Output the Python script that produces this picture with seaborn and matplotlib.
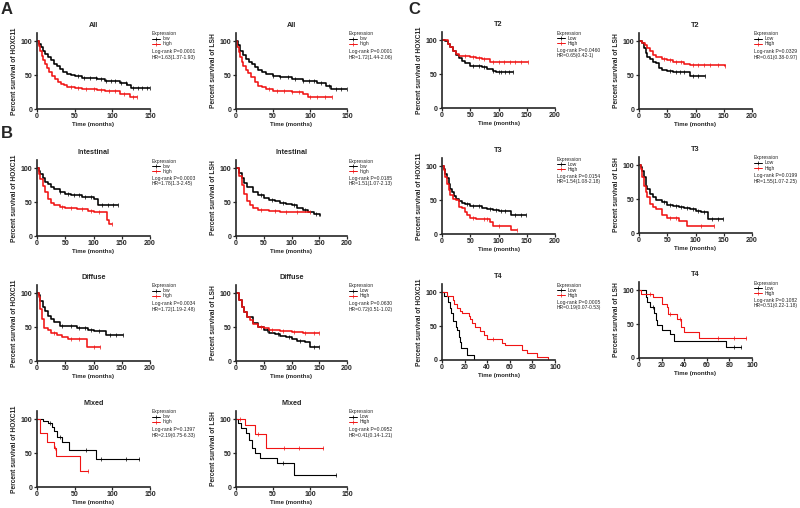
import numpy as np
import pandas as pd
import matplotlib
matplotlib.use("Agg")
import matplotlib.pyplot as plt
from matplotlib.lines import Line2D
import seaborn as sns

# ---- curve data: step times (months), % surviving, censor times ----
# A, HOXC11, All
all_hox_low_t = [0, 2, 5, 8, 11, 14, 18, 22, 26, 30, 35, 40, 45, 50, 60, 70, 80, 90, 100, 110, 120, 125, 150]
all_hox_low_s = [100, 96, 91, 86, 81, 77, 72, 67, 63, 59, 55, 52, 50, 48, 46, 45, 44, 42, 41, 39, 36, 31, 31]
all_hox_low_c = [55, 62, 70, 78, 85, 92, 98, 104, 112, 118, 128, 134, 140, 146, 150]
all_hox_high_t = [0, 2, 4, 6, 8, 10, 13, 16, 20, 24, 28, 32, 36, 40, 50, 60, 70, 80, 90, 100, 110, 124, 133]
all_hox_high_s = [100, 93, 85, 78, 72, 66, 60, 55, 49, 44, 40, 37, 35, 33, 31, 30, 29, 28, 27, 26, 22, 17, 17]
all_hox_high_c = [45, 55, 65, 75, 85, 95, 104, 115, 128, 133]
# A, LSH, All
all_lsh_low_t = [0, 3, 6, 10, 14, 18, 22, 26, 30, 35, 40, 50, 60, 75, 90, 100, 110, 122, 128, 150]
all_lsh_low_s = [100, 94, 86, 79, 74, 70, 66, 62, 58, 55, 52, 49, 47, 44, 42, 41, 38, 34, 29, 29]
all_lsh_low_c = [50, 60, 70, 80, 90, 98, 105, 115, 125, 135, 142, 150]
all_lsh_high_t = [0, 2, 4, 6, 8, 10, 13, 16, 20, 25, 30, 35, 40, 50, 60, 75, 90, 97, 130]
all_lsh_high_s = [100, 92, 84, 77, 70, 63, 58, 53, 47, 40, 34, 32, 30, 27, 26, 25, 22, 18, 18]
all_lsh_high_c = [45, 55, 65, 75, 85, 100, 110, 120, 130]
# B, Intestinal
int_hox_low_t = [0, 3, 6, 10, 15, 20, 25, 30, 40, 50, 60, 70, 80, 90, 100, 108, 144]
int_hox_low_s = [100, 96, 91, 85, 80, 76, 72, 69, 65, 62, 61, 60, 58, 57, 54, 45, 45]
int_hox_low_c = [40, 55, 65, 75, 85, 95, 115, 125, 135, 144]
int_hox_high_t = [0, 3, 6, 10, 15, 20, 25, 30, 40, 50, 70, 90, 100, 124, 128, 132]
int_hox_high_s = [100, 92, 84, 74, 65, 55, 48, 45, 43, 42, 40, 37, 35, 24, 18, 18]
int_hox_high_c = [45, 60, 80, 95, 110, 132]
int_lsh_low_t = [0, 5, 10, 15, 20, 30, 40, 50, 60, 70, 80, 90, 100, 110, 120, 130, 140, 151]
int_lsh_low_s = [100, 93, 85, 78, 72, 65, 60, 56, 53, 51, 49, 47, 45, 42, 39, 36, 32, 30]
int_lsh_low_c = [45, 65, 85, 105, 125, 145]
int_lsh_high_t = [0, 5, 10, 15, 20, 25, 30, 40, 50, 60, 80, 100, 120, 133]
int_lsh_high_s = [100, 88, 75, 62, 52, 46, 42, 39, 38, 37, 36, 36, 35, 35]
int_lsh_high_c = [45, 70, 90, 110, 133]
# B, Diffuse
dif_hox_low_t = [0, 3, 6, 10, 15, 20, 25, 30, 40, 50, 70, 90, 100, 122, 152]
dif_hox_low_s = [100, 97, 88, 80, 74, 67, 62, 57, 52, 51, 49, 46, 44, 38, 38]
dif_hox_low_c = [45, 60, 75, 85, 95, 110, 130, 140, 152]
dif_hox_high_t = [0, 3, 6, 9, 12, 20, 25, 35, 45, 55, 88, 111]
dif_hox_high_s = [100, 94, 77, 62, 49, 46, 41, 38, 36, 33, 21, 21]
dif_hox_high_c = [30, 60, 75, 100, 111]
dif_lsh_low_t = [0, 5, 10, 15, 20, 30, 40, 50, 60, 70, 80, 90, 100, 110, 125, 133, 150]
dif_lsh_low_s = [100, 90, 80, 72, 65, 56, 50, 45, 42, 40, 37, 35, 32, 30, 28, 20, 20]
dif_lsh_low_c = [55, 75, 95, 115, 140, 150]
dif_lsh_high_t = [0, 5, 10, 15, 20, 25, 30, 40, 50, 60, 80, 100, 120, 150]
dif_lsh_high_s = [100, 90, 80, 72, 65, 60, 55, 50, 48, 46, 44, 43, 42, 42]
dif_lsh_high_c = [45, 65, 85, 105, 125, 140, 150]
# B, Mixed
mix_hox_low_t = [0, 8, 15, 20, 23, 26, 33, 42, 78, 135]
mix_hox_low_s = [100, 98, 95, 88, 82, 73, 66, 55, 41, 41]
mix_hox_low_c = [17, 30, 65, 85, 118, 135]
mix_hox_high_t = [0, 3.5, 13, 22, 25.5, 57, 68]
mix_hox_high_s = [100, 80, 67, 57, 46, 23, 23]
mix_hox_high_c = [24, 68]
mix_lsh_low_t = [0, 3, 7, 14, 18, 21, 25, 32, 56, 78, 135]
mix_lsh_low_s = [100, 95, 87, 80, 70, 58, 50, 43, 35, 17, 17]
mix_lsh_low_c = [63, 135]
mix_lsh_high_t = [0, 12, 25, 40, 118]
mix_lsh_high_s = [100, 92, 78, 58, 58]
mix_lsh_high_c = [5, 30, 65, 85, 118]
# C, T2
t2_hox_low_t = [0, 5, 10, 15, 20, 25, 30, 35, 40, 50, 70, 80, 90, 95, 125]
t2_hox_low_s = [100, 99, 95, 90, 84, 78, 73, 70, 67, 62, 60, 58, 55, 53, 53]
t2_hox_low_c = [55, 65, 75, 90, 100, 105, 112, 118, 125]
t2_hox_high_t = [0, 10, 15, 20, 25, 30, 40, 50, 60, 70, 85, 152]
t2_hox_high_s = [100, 95, 90, 84, 80, 77, 76, 75, 73, 72, 68, 68]
t2_hox_high_c = [40, 55, 65, 75, 90, 100, 110, 120, 130, 140, 152]
t2_lsh_low_t = [0, 5, 8, 12, 15, 20, 25, 30, 35, 40, 50, 60, 85, 90, 117]
t2_lsh_low_s = [100, 97, 90, 82, 77, 73, 69, 68, 61, 58, 56, 55, 54, 49, 49]
t2_lsh_low_c = [55, 65, 72, 80, 95, 105, 117]
t2_lsh_high_t = [0, 5, 10, 15, 20, 25, 30, 40, 50, 60, 70, 80, 90, 152]
t2_lsh_high_s = [100, 98, 95, 90, 85, 80, 77, 74, 72, 70, 69, 67, 65, 64]
t2_lsh_high_c = [45, 55, 65, 75, 95, 105, 115, 125, 140, 152]
# C, T3
t3_hox_low_t = [0, 3, 6, 9, 12, 15, 18, 21, 25, 30, 35, 40, 50, 60, 70, 80, 90, 100, 122, 148]
t3_hox_low_s = [100, 96, 89, 82, 74, 67, 62, 56, 51, 48, 45, 44, 42, 41, 39, 37, 35, 34, 28, 28]
t3_hox_low_c = [45, 55, 65, 85, 95, 105, 112, 130, 140, 148]
t3_hox_high_t = [0, 3, 6, 9, 12, 15, 20, 25, 30, 35, 40, 45, 50, 60, 85, 90, 122, 133]
t3_hox_high_s = [100, 95, 84, 74, 65, 57, 52, 50, 40, 38, 33, 28, 24, 22, 18, 12, 6, 6]
t3_hox_high_c = [55, 75, 80, 100, 133]
t3_lsh_low_t = [0, 3, 6, 9, 12, 15, 20, 25, 30, 40, 50, 60, 70, 80, 90, 100, 110, 122, 148]
t3_lsh_low_s = [100, 97, 92, 82, 70, 65, 58, 53, 49, 45, 42, 40, 38, 37, 36, 32, 31, 21, 21]
t3_lsh_low_c = [45, 55, 65, 75, 85, 95, 105, 115, 130, 140, 148]
t3_lsh_high_t = [0, 3, 6, 9, 12, 15, 20, 25, 30, 40, 50, 60, 70, 85, 132]
t3_lsh_high_s = [100, 95, 82, 70, 60, 53, 43, 38, 35, 26, 22, 22, 17, 10, 10]
t3_lsh_high_c = [55, 65, 110, 132]
# C, T4
t4_hox_low_t = [0, 2, 5, 7, 8, 10, 12, 13, 15, 15.6, 17, 22, 28]
t4_hox_low_s = [100, 95, 85, 77, 69, 58, 49, 44, 34, 27, 17, 8, 0]
t4_hox_low_c = []
t4_hox_high_t = [0, 4, 10, 11, 13, 16, 18, 23.5, 25, 26.5, 29, 34, 37, 40, 53, 56, 71, 75, 84, 94]
t4_hox_high_s = [100, 95, 88, 83, 77, 72, 70, 65, 60, 55, 48, 43, 37, 31, 25, 22, 15, 10, 5, 0]
t4_hox_high_c = [45]
t4_lsh_low_t = [0, 6, 7, 9.5, 13, 15, 16, 20, 27, 31, 77, 90]
t4_lsh_low_s = [100, 90, 82, 75, 67, 56, 48, 42, 35, 25, 16, 16]
t4_lsh_low_c = [12, 84, 90]
t4_lsh_high_t = [0, 2, 12, 20, 25, 26, 34, 37, 40, 53, 95]
t4_lsh_high_s = [100, 95, 90, 80, 75, 65, 58, 45, 38, 30, 30]
t4_lsh_high_c = [10, 27, 36, 70, 84, 95]

W, H = 800, 508
RED = "#f01414"

sns.set_style("ticks")
plt.rcParams["font.family"] = ["Liberation Sans", "DejaVu Sans"]
plt.rcParams["font.weight"] = "bold"
plt.rcParams["axes.labelweight"] = "bold"
plt.rcParams["axes.titleweight"] = "bold"

fig = plt.figure(figsize=(W / 100, H / 100), dpi=100)


def fx(px):
    return px / W


def fy(py):
    return 1 - py / H


def km(ax, t, s, cens, color, lw):
    df = pd.DataFrame({"t": t, "s": s})
    sns.lineplot(data=df, x="t", y="s", drawstyle="steps-post", color=color,
                 lw=lw, estimator=None, legend=False, ax=ax)
    if len(cens):
        idx = np.searchsorted(t, cens, side="right") - 1
        ax.plot(cens, np.array(s)[idx], ls="none", marker="|", ms=2.4,
                mew=0.5, color=color, clip_on=False)


def panel(x0, x1, ybot, title, gene, xmax, xstep, low, high, names, stats, lw=1.15):
    ax = fig.add_axes([fx(x0), fy(ybot), fx(x1 - x0), 76 / H])
    km(ax, *low, "black", lw)
    km(ax, *high, RED, lw)
    ax.set_xlim(0, xmax)
    ax.set_ylim(0, 112)
    ax.set_xticks(range(0, xmax + 1, xstep))
    ax.set_yticks([0, 50, 100])
    ax.set_title(title, fontsize=5.2, pad=4)
    ax.set_xlabel("Time (months)", fontsize=4.4, labelpad=1)
    ax.set_ylabel(f"Percent survival of {gene}", fontsize=4.8, labelpad=2)
    sns.despine(ax=ax)
    for sp in ("left", "bottom"):
        ax.spines[sp].set_linewidth(1.2)
    ax.tick_params(length=2.2, width=0.9, labelsize=5, pad=1)

    # legend drawn by hand to the right of the axes
    yt = ybot - 76
    lx = x1 + 2
    fig.text(fx(lx), fy(yt + 1), "Expression", fontsize=3.6, weight="normal", va="center")
    for k, (nm, col) in enumerate(zip(names, ["black", RED])):
        yy = yt + 6 + 5 * k
        fig.add_artist(Line2D([fx(lx), fx(lx + 8)], [fy(yy), fy(yy)], color=col, lw=0.7))
        fig.add_artist(Line2D([fx(lx + 4)], [fy(yy)], color=col, marker="|", ms=2.2, mew=0.5))
        fig.text(fx(lx + 10.5), fy(yy), nm, fontsize=3.6, weight="normal", va="center")
    fig.text(fx(lx), fy(yt + 18.5), stats[0], fontsize=3.6, weight="normal", va="center")
    fig.text(fx(lx), fy(yt + 24), stats[1], fontsize=3.6, weight="normal", va="center")
    return ax


lo = ["low", "high"]
up = ["Low", "High"]

# A
panel(37, 150, 109, "All", "HOXC11", 150, 50,
      (all_hox_low_t, all_hox_low_s, all_hox_low_c), (all_hox_high_t, all_hox_high_s, all_hox_high_c),
      lo, ["Log-rank P=0.0001", "HR=1.63(1.37-1.93)"])
panel(236, 347, 109, "All", "LSH", 150, 50,
      (all_lsh_low_t, all_lsh_low_s, all_lsh_low_c), (all_lsh_high_t, all_lsh_high_s, all_lsh_high_c),
      lo, ["Log-rank P=0.0001", "HR=1.72(1.44-2.06)"])
# B
panel(37, 150, 236, "Intestinal", "HOXC11", 200, 50,
      (int_hox_low_t, int_hox_low_s, int_hox_low_c), (int_hox_high_t, int_hox_high_s, int_hox_high_c),
      lo, ["Log-rank P=0.0003", "HR=1.78(1.3-2.45)"])
panel(236, 347, 236, "Intestinal", "LSH", 200, 50,
      (int_lsh_low_t, int_lsh_low_s, int_lsh_low_c), (int_lsh_high_t, int_lsh_high_s, int_lsh_high_c),
      lo, ["Log-rank P=0.0185", "HR=1.51(1.07-2.13)"])
panel(37, 150, 361, "Diffuse", "HOXC11", 200, 50,
      (dif_hox_low_t, dif_hox_low_s, dif_hox_low_c), (dif_hox_high_t, dif_hox_high_s, dif_hox_high_c),
      lo, ["Log-rank P=0.0034", "HR=1.72(1.19-2.48)"])
panel(236, 347, 361, "Diffuse", "LSH", 200, 50,
      (dif_lsh_low_t, dif_lsh_low_s, dif_lsh_low_c), (dif_lsh_high_t, dif_lsh_high_s, dif_lsh_high_c),
      up, ["Log-rank P=0.0630", "HR=0.72(0.51-1.02)"])
panel(37, 150, 487, "Mixed", "HOXC11", 150, 50,
      (mix_hox_low_t, mix_hox_low_s, mix_hox_low_c), (mix_hox_high_t, mix_hox_high_s, mix_hox_high_c),
      lo, ["Log-rank P=0.1397", "HR=2.19(0.75-6.33)"], lw=0.8)
panel(236, 347, 487, "Mixed", "LSH", 150, 50,
      (mix_lsh_low_t, mix_lsh_low_s, mix_lsh_low_c), (mix_lsh_high_t, mix_lsh_high_s, mix_lsh_high_c),
      up, ["Log-rank P=0.0952", "HR=0.41(0.14-1.21)"], lw=0.8)
# C
panel(442, 555, 108, "T2", "HOXC11", 200, 50,
      (t2_hox_low_t, t2_hox_low_s, t2_hox_low_c), (t2_hox_high_t, t2_hox_high_s, t2_hox_high_c),
      up, ["Log-rank P=0.0460", "HR=0.65(0.42-1)"])
panel(639, 752, 109, "T2", "LSH", 200, 50,
      (t2_lsh_low_t, t2_lsh_low_s, t2_lsh_low_c), (t2_lsh_high_t, t2_lsh_high_s, t2_lsh_high_c),
      up, ["Log-rank P=0.0329", "HR=0.61(0.38-0.97)"])
panel(442, 555, 234, "T3", "HOXC11", 200, 50,
      (t3_hox_low_t, t3_hox_low_s, t3_hox_low_c), (t3_hox_high_t, t3_hox_high_s, t3_hox_high_c),
      up, ["Log-rank P=0.0154", "HR=1.54(1.08-2.18)"])
panel(639, 752, 233, "T3", "LSH", 200, 50,
      (t3_lsh_low_t, t3_lsh_low_s, t3_lsh_low_c), (t3_lsh_high_t, t3_lsh_high_s, t3_lsh_high_c),
      up, ["Log-rank P=0.0199", "HR=1.55(1.07-2.25)"])
panel(442, 555, 360, "T4", "HOXC11", 100, 20,
      (t4_hox_low_t, t4_hox_low_s, t4_hox_low_c), (t4_hox_high_t, t4_hox_high_s, t4_hox_high_c),
      up, ["Log-rank P=0.0005", "HR=0.19(0.07-0.53)"], lw=0.8)
panel(639, 752, 358, "T4", "LSH", 100, 20,
      (t4_lsh_low_t, t4_lsh_low_s, t4_lsh_low_c), (t4_lsh_high_t, t4_lsh_high_s, t4_lsh_high_c),
      up, ["Log-rank P=0.1082", "HR=0.51(0.22-1.18)"], lw=0.8)

# panel letters
fig.text(fx(1), fy(2), "A", fontsize=12, weight="bold", va="top")
fig.text(fx(1), fy(126), "B", fontsize=12, weight="bold", va="top")
fig.text(fx(408), fy(2), "C", fontsize=12, weight="bold", va="top")

fig.savefig("out.png", dpi=100)
